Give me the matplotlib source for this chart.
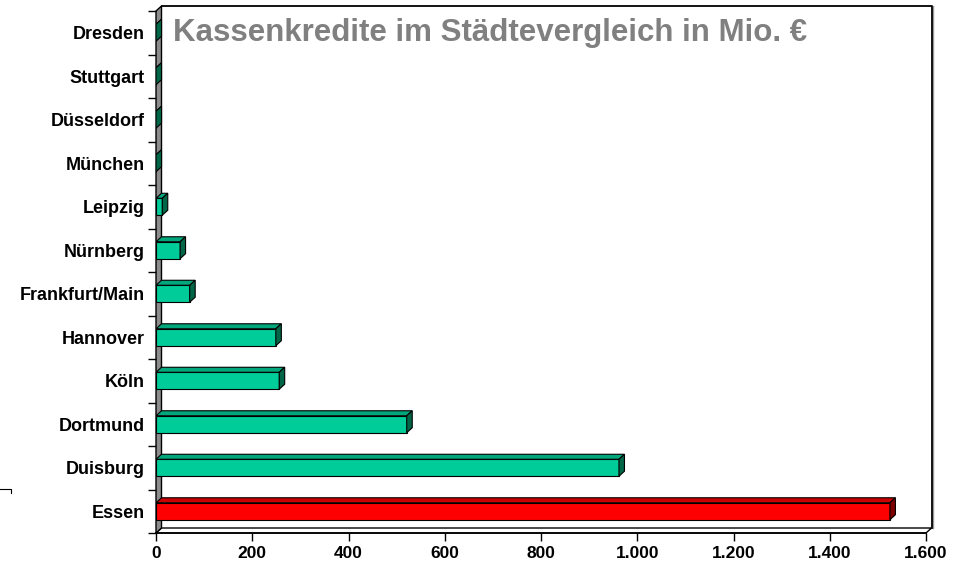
import matplotlib
matplotlib.use("Agg")
import matplotlib.pyplot as plt
from matplotlib.patches import Polygon
from matplotlib.lines import Line2D
from matplotlib.ticker import FuncFormatter

cities = ['Essen', 'Duisburg', 'Dortmund', 'Köln', 'Hannover', 'Frankfurt/Main',
          'Nürnberg', 'Leipzig', 'München', 'Düsseldorf', 'Stuttgart', 'Dresden']
credits = [1525, 962, 521, 256, 249, 70, 50, 13, 0, 0, 0, 0]
highlight = 'Essen'
title = 'Kassenkredite im Städtevergleich in Mio. €'
xmax = 1600

plt.rcParams['font.family'] = ['Liberation Sans', 'DejaVu Sans']

W, H = 956, 566
fig = plt.figure(figsize=(W / 100, H / 100), dpi=100)
# front plane of the 3d box in pixels
left, right, top, bottom = 156, 926, 11, 533
ax = fig.add_axes([left / W, 1 - bottom / H, (right - left) / W, (bottom - top) / H])
n = len(cities)
ax.set_xlim(0, xmax)
ax.set_ylim(-0.5, n - 0.5)

# 3d depth offset, 5 px right and 5 px up, in data units
dx = 5.5 * xmax / (right - left)
dy = 5 * n / (bottom - top)
y0, y1 = -0.5, n - 0.5

# back wall outline, floor, side wall
ax.add_line(Line2D([dx, xmax + dx, xmax + dx], [y1 + dy, y1 + dy, y0 + dy],
                   color='black', lw=1.3, clip_on=False, zorder=1))
ax.add_line(Line2D([xmax + dx + 2.5, xmax + dx + 2.5], [y0 + dy, y1 + dy],
                   color='#999999', lw=1.0, clip_on=False, zorder=0.9))
ax.add_patch(Polygon([(0, y0), (xmax, y0), (xmax + dx, y0 + dy), (dx, y0 + dy)],
                     closed=True, fc='white', ec='black', lw=1, clip_on=False, zorder=1))
ax.add_patch(Polygon([(0, y0), (0, y1), (dx, y1 + dy), (dx, y0 + dy)],
                     closed=True, fc='#8c8c8c', ec='black', lw=1, clip_on=False, zorder=1))

front = ['#FF0000' if c == highlight else '#00CC99' for c in cities]
tops = ['#CC0000' if c == highlight else '#00A67C' for c in cities]
sides = ['#800000' if c == highlight else '#006647' for c in cities]

bh = 0.39
bars = ax.barh(range(n), credits, height=bh, color=front, edgecolor='black',
               linewidth=0.8, zorder=3)
for b, ct, cs in zip(bars, tops, sides):
    x = b.get_width()
    yb = b.get_y()
    yt = yb + b.get_height()
    ax.add_patch(Polygon([(0, yt), (x, yt), (x + dx, yt + dy), (dx, yt + dy)],
                         closed=True, fc=ct, ec='black', lw=0.8, zorder=3))
    ax.add_patch(Polygon([(x, yb), (x, yt), (x + dx, yt + dy), (x + dx, yb + dy)],
                         closed=True, fc=cs, ec='black', lw=0.8, zorder=3))

for s in ['top', 'right', 'left']:
    ax.spines[s].set_visible(False)
ax.spines['bottom'].set_linewidth(1.2)
ax.spines['bottom'].set_zorder(4)

ax.set_xticks(range(0, xmax + 1, 200))
ax.xaxis.set_major_formatter(FuncFormatter(lambda v, p: f'{int(v):,}'.replace(',', '.')))
ax.tick_params(axis='x', length=6, width=1, pad=3, labelsize=12.5)
for lab in ax.get_xticklabels():
    lab.set_fontweight('bold')

ax.set_yticks(range(n))
ax.set_yticklabels(cities, fontweight='bold', fontsize=13)
ax.set_yticks([i - 0.5 for i in range(n + 1)], minor=True)
ax.tick_params(axis='y', which='major', length=0, pad=8)
ax.tick_params(axis='y', which='minor', length=6, width=1)

fig.text(173 / W, 1 - 33 / H, title, color='#808080', fontweight='bold',
         fontsize=22.5, va='center', ha='left')

# small stray mark at the left edge
fig.add_artist(Line2D([0 / W, 11 / W, 11 / W], [1 - 489 / H, 1 - 489 / H, 1 - 493 / H],
                      color='black', lw=0.8))

fig.savefig('out.png', dpi=100)
